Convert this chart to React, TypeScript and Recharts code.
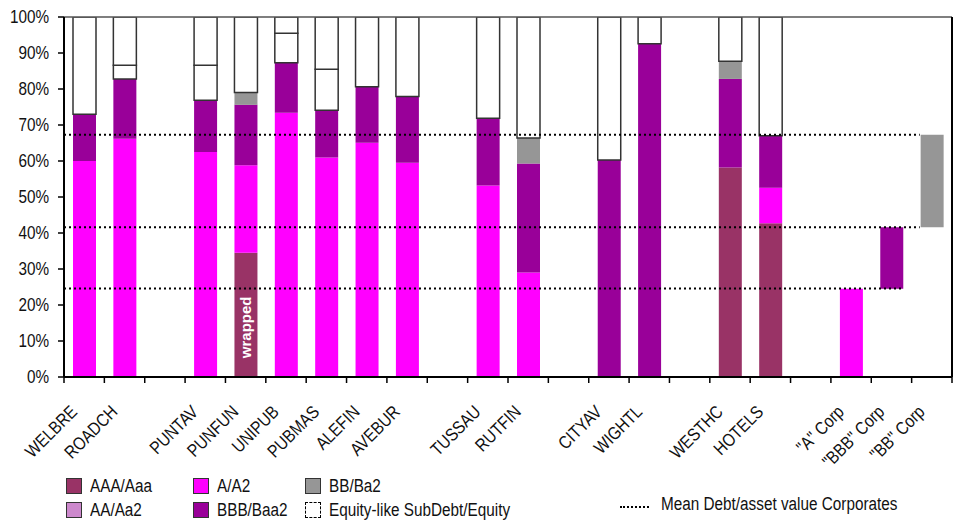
import React from 'react';
import { BarChart, Bar, XAxis, YAxis, ReferenceLine, LabelList } from 'recharts';

const categories = ['WELBRE', 'ROADCH', '', 'PUNTAV', 'PUNFUN', 'UNIPUB', 'PUBMAS', 'ALEFIN', 'AVEBUR', '', 'TUSSAU', 'RUTFIN', '', 'CITYAV', 'WIGHTL', '', 'WESTHC', 'HOTELS', '', '"A" Corp', '"BBB" Corp', '"BB" Corp'];
const baseVals = [0, 0, 0, 0, 0, 0, 0, 0, 0, 0, 0, 0, 0, 0, 0, 0, 0, 0, 0, 0, 24.5, 41.6];
const aaaVals = [0, 0, 0, 0, 34.5, 0, 0, 0, 0, 0, 0, 0, 0, 0, 0, 0, 58.2, 42.7, 0, 0, 0, 0];
const aaVals = [0, 0, 0, 0, 0, 0, 0, 0, 0, 0, 0, 0, 0, 0, 0, 0, 0, 0, 0, 0, 0, 0];
const aVals = [60, 66.2, 0, 62.5, 24.3, 73.4, 61.0, 65.1, 59.5, 0, 53.2, 29.0, 0, 0, 0, 0, 0, 9.9, 0, 24.5, 0, 0];
const bbbVals = [13, 16.6, 0, 14.4, 16.8, 13.9, 13.1, 15.5, 18.4, 0, 18.7, 30.3, 0, 60.3, 92.6, 0, 24.6, 14.4, 0, 0, 17.1, 0];
const bbVals = [0, 0, 0, 0, 3.4, 0, 0, 0, 0, 0, 0, 7.1, 0, 0, 0, 0, 4.9, 0, 0, 0, 0, 25.7];
const subDebtVals = [0, 3.8, 0, 9.7, 0, 8.2, 11.4, 0, 0, 0, 0, 0, 0, 0, 0, 0, 0, 0, 0, 0, 0, 0];
const equityVals = [27, 13.4, 0, 13.4, 21.0, 4.5, 14.5, 19.4, 22.1, 0, 28.1, 33.6, 0, 39.7, 7.4, 0, 12.3, 33.0, 0, 0, 0, 0];
const notes = ['', '', '', '', 'wrapped', '', '', '', '', '', '', '', '', '', '', '', '', '', '', '', '', ''];
const yTicks = [0, 10, 20, 30, 40, 50, 60, 70, 80, 90, 100];

// Mean Debt/asset value Corporates (level, end position in category units)
const meanLevels = [24.6, 41.6, 67.3];
const meanEnds = [20.78, 21.2, 21.2];

const rows = categories.map((c, i) => ({
  key: `c${i}`,
  label: c,
  idx: i + 0.5,
  base: baseVals[i],
  aaa: aaaVals[i],
  aa: aaVals[i],
  a: aVals[i],
  bbb: bbbVals[i],
  bb: bbVals[i],
  sub: subDebtVals[i],
  equity: equityVals[i],
  note: notes[i],
}));

const boundaryTicks = Array.from({ length: categories.length + 1 }, (_, i) => i);

const FONT = "'Liberation Sans', Arial, sans-serif";
const NARROW = 0.85;
const COLORS = {
  aaa: '#993366',
  aa: '#CC88CC',
  a: '#FF00FF',
  bbb: '#990099',
  bb: '#969696',
};

const CatTick = (props: any) => {
  const { x, y, index } = props;
  const label = categories[index] ?? '';
  const ax = x - 6;
  const ay = y + 28;
  return (
    <text
      x={0}
      y={0}
      transform={`translate(${ax} ${ay}) rotate(-45) scale(${NARROW} 1)`}
      textAnchor="end"
      fontFamily={FONT}
      fontSize={18}
      fill="#111"
    >
      {label}
    </text>
  );
};

const EmptyTick = () => <g />;

const YTick = (props: any) => {
  const { x, y, payload } = props;
  return (
    <text
      x={0}
      y={0}
      transform={`translate(${x} ${y}) scale(${NARROW} 1)`}
      textAnchor="end"
      dominantBaseline="central"
      fontFamily={FONT}
      fontSize={18}
      fill="#111"
    >
      {`${payload.value}%`}
    </text>
  );
};

const WrappedLabel = (props: any) => {
  const { x, y, width, height, value } = props;
  if (!value) return null;
  const cx = x + width / 2;
  const cy = y + height * 0.6;
  return (
    <text
      x={cx}
      y={cy}
      transform={`rotate(-90 ${cx} ${cy})`}
      textAnchor="middle"
      dominantBaseline="central"
      fontFamily={FONT}
      fontWeight="bold"
      fontSize={15}
      fill="#fff"
    >
      {value}
    </text>
  );
};

const Swatch = ({ color, dashed }: { color: string; dashed?: boolean }) => (
  <span
    style={{
      display: 'inline-block',
      width: 16,
      height: 16,
      background: color,
      border: dashed ? '1px dashed #000' : '1px solid #333',
      boxSizing: 'border-box',
      flex: '0 0 auto',
    }}
  />
);

const legendItems = [
  { name: 'AAA/Aaa', color: COLORS.aaa, left: 66, top: 478 },
  { name: 'AA/Aa2', color: COLORS.aa, left: 66, top: 502 },
  { name: 'A/A2', color: COLORS.a, left: 193, top: 478 },
  { name: 'BBB/Baa2', color: COLORS.bbb, left: 193, top: 502 },
  { name: 'BB/Ba2', color: COLORS.bb, left: 305, top: 478 },
  { name: 'Equity-like SubDebt/Equity', color: '#fff', left: 305, top: 502, dashed: true },
];

const NarrowText = ({ children }: { children: React.ReactNode }) => (
  <span
    style={{
      display: 'inline-block',
      transform: `scaleX(${NARROW})`,
      transformOrigin: 'left center',
      fontFamily: FONT,
      fontSize: 18,
      color: '#111',
      whiteSpace: 'nowrap',
    }}
  >
    {children}
  </span>
);

export default function App() {
  return (
    <div style={{ position: 'absolute', left: 0, top: 0, width: 961, height: 525, background: '#fff' }}>
      <BarChart
        width={961}
        height={525}
        data={rows}
        margin={{ top: 17, right: 9, left: 0, bottom: 80 }}
        barSize={23}
      >
        <XAxis
          xAxisId="b_cat"
          dataKey="key"
          interval={0}
          tickLine={false}
          axisLine={false}
          tickSize={0}
          tickMargin={0}
          height={60}
          tick={<CatTick />}
        />
        <XAxis
          xAxisId="a_num"
          type="number"
          dataKey="idx"
          domain={[0, 22]}
          ticks={boundaryTicks}
          interval={0}
          allowDataOverflow
          tick={<EmptyTick />}
          tickSize={6}
          height={8}
          axisLine={{ stroke: '#000', strokeWidth: 2 }}
          tickLine={{ stroke: '#000', strokeWidth: 1.5 }}
        />
        <YAxis
          domain={[0, 100]}
          ticks={yTicks}
          width={64}
          tickSize={6}
          tickMargin={9}
          axisLine={{ stroke: '#000', strokeWidth: 2 }}
          tickLine={{ stroke: '#000', strokeWidth: 1.5 }}
          tick={<YTick />}
          allowDataOverflow
        />
        <Bar xAxisId="b_cat" dataKey="base" stackId="s" fill="transparent" isAnimationActive={false} />
        <Bar xAxisId="b_cat" dataKey="aaa" stackId="s" fill={COLORS.aaa} isAnimationActive={false}>
          <LabelList dataKey="note" content={<WrappedLabel />} />
        </Bar>
        <Bar xAxisId="b_cat" dataKey="aa" stackId="s" fill={COLORS.aa} isAnimationActive={false} />
        <Bar xAxisId="b_cat" dataKey="a" stackId="s" fill={COLORS.a} isAnimationActive={false} />
        <Bar xAxisId="b_cat" dataKey="bbb" stackId="s" fill={COLORS.bbb} isAnimationActive={false} />
        <Bar xAxisId="b_cat" dataKey="bb" stackId="s" fill={COLORS.bb} isAnimationActive={false} />
        <Bar xAxisId="b_cat" dataKey="sub" stackId="s" fill="#fff" stroke="#333" strokeWidth={1.5} isAnimationActive={false} />
        <Bar xAxisId="b_cat" dataKey="equity" stackId="s" fill="#fff" stroke="#333" strokeWidth={1.5} isAnimationActive={false} />
        <ReferenceLine xAxisId="a_num" y={100} stroke="#555" strokeWidth={1.5} />
        <ReferenceLine xAxisId="a_num" x={22} stroke="#000" strokeWidth={2} />
        {meanLevels.map((lv, i) => (
          <ReferenceLine
            key={`m${i}`}
            xAxisId="a_num"
            segment={[{ x: 0, y: lv }, { x: meanEnds[i], y: lv }]}
            stroke="#000"
            strokeWidth={2}
            strokeDasharray="2 3"
          />
        ))}
      </BarChart>
      {legendItems.map((it) => (
        <div
          key={it.name}
          style={{
            position: 'absolute',
            left: it.left,
            top: it.top,
            height: 16,
            display: 'flex',
            alignItems: 'center',
            gap: 8,
            lineHeight: '16px',
          }}
        >
          <Swatch color={it.color} dashed={it.dashed} />
          <NarrowText>{it.name}</NarrowText>
        </div>
      ))}
      <div
        style={{
          position: 'absolute',
          left: 620,
          top: 495,
          height: 18,
          display: 'flex',
          alignItems: 'center',
          gap: 12,
          lineHeight: '18px',
        }}
      >
        <span style={{ display: 'inline-block', width: 29, borderTop: '2px dotted #000', marginTop: 6, flex: '0 0 auto' }} />
        <NarrowText>Mean Debt/asset value Corporates</NarrowText>
      </div>
    </div>
  );
}
